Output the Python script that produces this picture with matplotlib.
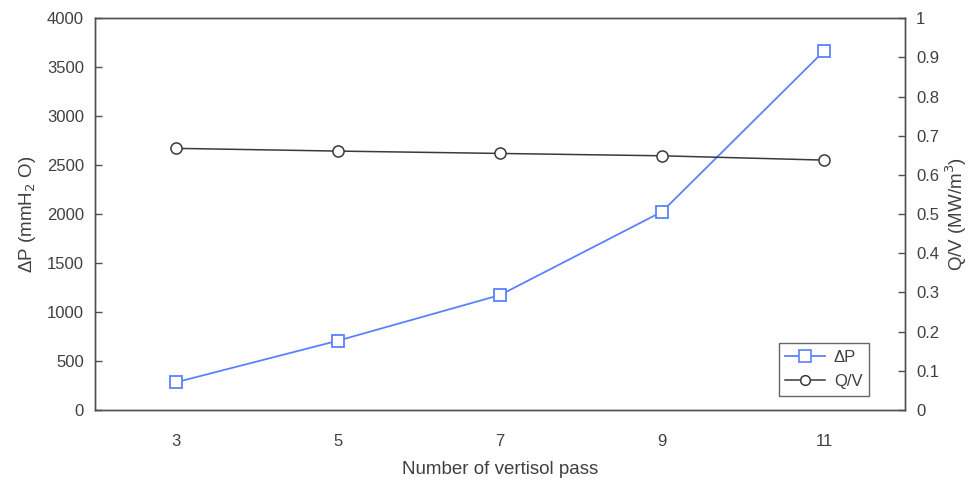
import matplotlib.pyplot as plt
from matplotlib.lines import Line2D

plt.rcParams['font.family'] = ['Liberation Sans', 'DejaVu Sans']
plt.rcParams['font.size'] = 12

passes = [3, 5, 7, 9, 11]
delta_p = [283, 708, 1174, 2025, 3666]
q_per_v = [0.668, 0.661, 0.655, 0.649, 0.638]

text_col = '#404040'
blue = '#5a82ff'
dark = '#3a3a3a'

fig = plt.figure(figsize=(9.7, 4.82), dpi=100)
ax = fig.add_axes([0.098, 0.1494, 0.835, 0.8126])
ax2 = ax.twinx()

ax.plot(passes, delta_p, color=blue, lw=1.3, marker='s', ms=8.5,
        mfc='white', mec=blue, mew=1.3, zorder=3)
ax2.plot(passes, q_per_v, color=dark, lw=1.1, marker='o', ms=8,
         mfc='white', mec=dark, mew=1.1, zorder=3)

ax.set_xlim(2, 12)
ax.set_ylim(0, 4000)
ax2.set_ylim(0, 1)
ax.set_xticks(passes)
ax.set_yticks(range(0, 4001, 500))
ax2.set_yticks([i / 10 for i in range(11)])
ax2.set_yticklabels(['0'] + [f'0.{i}' for i in range(1, 10)] + ['1'])

for a in (ax, ax2):
    for s in a.spines.values():
        s.set_color('#505050')
        s.set_linewidth(1.0)
    a.tick_params(axis='y', direction='in', length=5, width=1.0,
                  colors='#505050', labelcolor=text_col, labelsize=12, pad=8)
ax.tick_params(axis='x', length=0, labelcolor=text_col, labelsize=12, pad=17)

ax.set_xlabel('Number of vertisol pass', color=text_col, fontsize=13.5, labelpad=9)
ax.set_ylabel('ΔP (mmH$_2$ O)', color=text_col, fontsize=13.5, labelpad=6)
ax2.set_ylabel('Q/V (MW/m$^3$)', color=text_col, fontsize=13.5, labelpad=3)

handles = [
    Line2D([], [], color=blue, lw=1.3, marker='s', ms=8, mfc='white', mec=blue, mew=1.2, label='ΔP'),
    Line2D([], [], color=dark, lw=1.1, marker='o', ms=7, mfc='white', mec=dark, mew=1.1, label='Q/V'),
]
leg = ax2.legend(handles=handles, loc='lower right', bbox_to_anchor=(0.9556, 0.036),
                 borderaxespad=0, frameon=True, fancybox=False, edgecolor='#404040',
                 fontsize=12, handlelength=2.4, handletextpad=0.5, borderpad=0.4,
                 labelspacing=0.55)
leg.get_frame().set_linewidth(1.0)
for t in leg.get_texts():
    t.set_color(text_col)

fig.savefig('out.png', dpi=100, facecolor='white')
